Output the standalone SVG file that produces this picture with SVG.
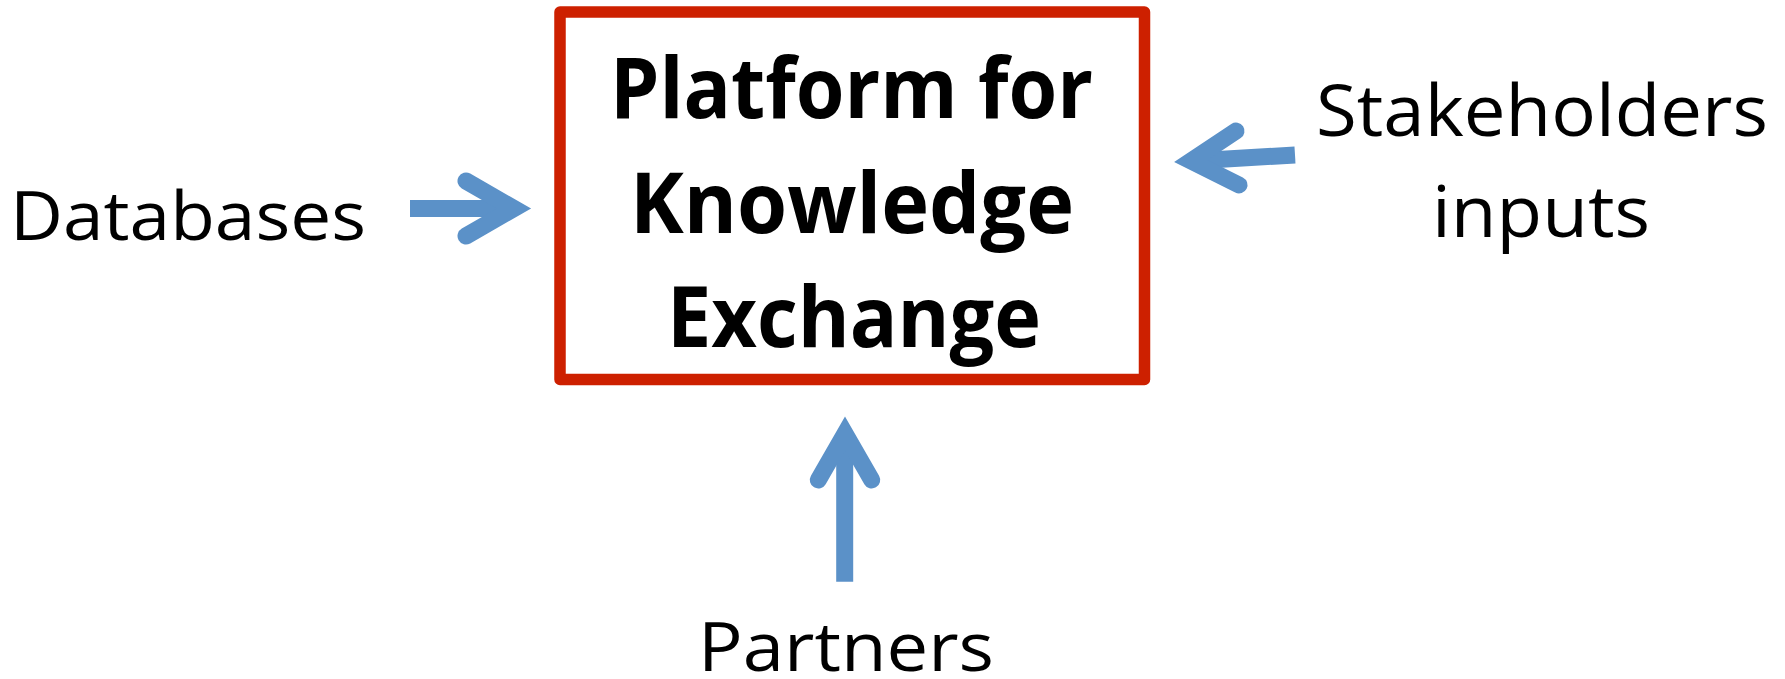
<svg xmlns="http://www.w3.org/2000/svg" width="1785" height="679" viewBox="0 0 1785 679">
<style>
.lbl{font-family:"Open Sans","Noto Sans","Liberation Sans",sans-serif;fill:#000}
.ttl{font-family:"Open Sans","Noto Sans","Liberation Sans",sans-serif;font-weight:700;fill:#000;font-size:84px}
.shaft{stroke:#5B91C8;stroke-width:17;fill:none;stroke-linecap:butt}
.head{stroke:#5B91C8;stroke-width:17;fill:none;stroke-linecap:round;stroke-linejoin:miter;stroke-miterlimit:10}
</style>
<rect width="1785" height="679" fill="#fff"/>
<g id="platform">
<rect x="560" y="12" width="584.5" height="367.5" fill="#fff" stroke="#CD2000" stroke-width="11.5" stroke-linejoin="round"/>
<text class="ttl" x="610" y="118" textLength="483" lengthAdjust="spacingAndGlyphs">Platform for</text>
<text class="ttl" x="630" y="233" textLength="444" lengthAdjust="spacingAndGlyphs">Knowledge</text>
<text class="ttl" x="667" y="347" textLength="374" lengthAdjust="spacingAndGlyphs">Exchange</text>
</g>
<g id="databases">
<text class="lbl" x="10" y="240" font-size="67" textLength="356" lengthAdjust="spacingAndGlyphs">Databases</text>
</g>
<g id="stakeholders">
<text class="lbl" x="1316" y="136" font-size="71" textLength="452" lengthAdjust="spacingAndGlyphs">Stakeholders</text>
<text class="lbl" x="1432" y="237" font-size="71" textLength="218" lengthAdjust="spacingAndGlyphs">inputs</text>
</g>
<g id="partners">
<text class="lbl" x="698" y="671" font-size="68" textLength="296" lengthAdjust="spacingAndGlyphs">Partners</text>
</g>
<g id="connectors">
<line class="shaft" x1="410" y1="208.5" x2="512" y2="208.5"/>
<polyline class="head" points="466,181 514,208.5 466,236"/>
<line class="shaft" x1="1295" y1="155" x2="1193" y2="161"/>
<polyline class="head" points="1236,131 1191,161 1239,185"/>
<line class="shaft" x1="844.7" y1="581.7" x2="844.7" y2="436"/>
<polyline class="head" points="818.3,480 845,433.5 871.7,480"/>
</g>
</svg>
